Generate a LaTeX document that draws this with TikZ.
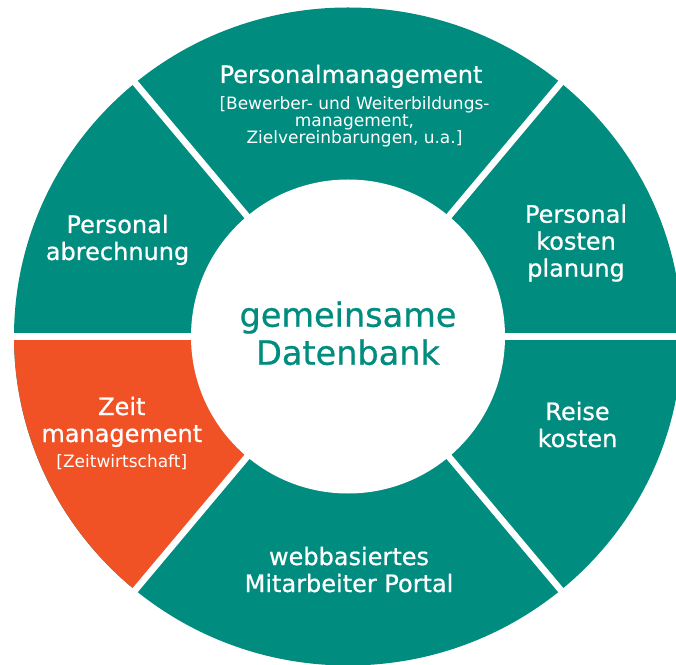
\documentclass[tikz,border=0pt]{standalone}
\usepackage{fontspec}
\setmainfont{DejaVu Sans}
\newfontfamily\medfont{DejaVu Sans}[FakeBold=0.7]
\usetikzlibrary{positioning}
\definecolor{ringgreen}{HTML}{008C7F}
\definecolor{zeitorange}{HTML}{F05226}

\begin{document}
\begin{tikzpicture}[
            x = 1pt, % one unit is one pixel
            y = 1pt,
            line join = round,
        ]
 \tikzstyle{gap}=[
            draw = white,
            line width = 6.5pt
        ]
 \tikzstyle{hub}=[
            shape = circle,
            fill = white,
            text = ringgreen,
            align = center,
            minimum size = 314pt,
            inner sep = 0pt,
            text depth = 7pt, % lifts the text a little
            font = \medfont\fontsize{33.5}{38}\selectfont
        ]
 \tikzstyle{title}=[
            text = white,
            align = center,
            anchor = base, % base is the last line
            inner sep = 0pt,
            font = \medfont\fontsize{24}{27}\selectfont
        ]
 \tikzstyle{subtitle}=[
            text = white,
            align = center,
            anchor = base,
            inner sep = 0pt,
            font = \fontsize{17}{17}\selectfont
        ]
\useasboundingbox (0,0) rectangle (676,664);
\clip (0,0) rectangle (676,664);
\coordinate (C) at (348,327.5);
% ring
\fill[ringgreen] (C) ellipse [x radius=334pt, y radius=329pt];
\fill[zeitorange] (C) -- ++(180:334pt and 329pt) arc [start angle=180, end angle=230, x radius=334pt, y radius=329pt] -- cycle;
\draw[gap] (C) -- ++(0:360pt);
\draw[gap] (C) -- ++(50:360pt);
\draw[gap] (C) -- ++(130:360pt);
\draw[gap] (C) -- ++(180:360pt);
\draw[gap] (C) -- ++(230:360pt);
\draw[gap] (C) -- ++(310:360pt);
\node[hub](db) at (C) {gemeinsame\\Datenbank};
% labels
\node[title](pm) at (351,581) {Personalmanagement};
\node[subtitle](pmsub) at (354.5,520.7) {[Bewerber- und Weiterbildungs-\\management,\\Zielvereinbarungen, u.a.]};
\node[title](pa) at (117.5,404) {Personal\\abrechnung};
\node[title](pk) at (576,387.3) {Personal\\kosten\\planung};
\node[title](rk) at (577.5,217) {Reise\\kosten};
\node[title](zm) at (121.8,222) {Zeit\\management};
\node[subtitle](zmsub) at (121.8,197) {[Zeitwirtschaft]};
\node[title](wp) at (349,72) {webbasiertes\\Mitarbeiter Portal};
\end{tikzpicture}
\end{document}
